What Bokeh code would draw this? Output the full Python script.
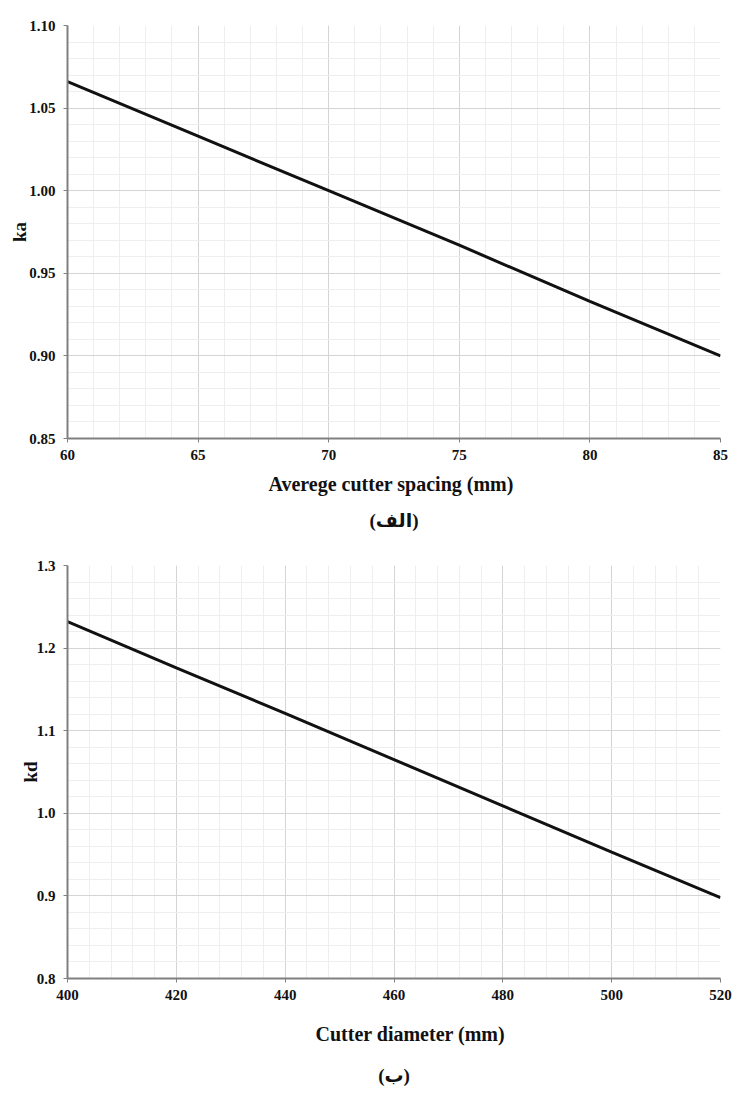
from bokeh.plotting import figure
from bokeh.layouts import column
from bokeh.models import Range1d, SingleIntervalTicker, NumeralTickFormatter, Title
from bokeh.embed import file_html
from bokeh.resources import INLINE

# ---- data ----
spacing = [60, 65, 70, 75, 80, 85]
ka = [1.066, 1.033, 1.000, 0.967, 0.933, 0.900]
diameter = [400, 420, 440, 460, 480, 500, 520]
kd = [1.232, 1.176, 1.121, 1.065, 1.009, 0.953, 0.898]

x1_label = "Averege cutter spacing (mm)"
y1_label = "ka"
cap1 = "(الف)"
x2_label = "Cutter diameter (mm)"
y2_label = "kd"
cap2 = "(ب)"

FONT = "Liberation Serif, DejaVu Serif, DejaVu Sans"


def make(xs, ys, xr, yr, xint, yint, yfmt, xl, yl, cap, h, top, bottom, right,
         title_off, s1, s2):
    p = figure(width=735, height=h, output_backend="svg", toolbar_location=None,
               x_range=Range1d(*xr), y_range=Range1d(*yr),
               min_border_left=67, min_border_right=right,
               min_border_top=top, min_border_bottom=bottom)
    p.outline_line_color = None
    p.xaxis.ticker = SingleIntervalTicker(interval=xint, num_minor_ticks=5)
    p.yaxis.ticker = SingleIntervalTicker(interval=yint, num_minor_ticks=5)
    p.yaxis.formatter = NumeralTickFormatter(format=yfmt)
    for ax in (p.xaxis, p.yaxis):
        ax.axis_line_color = "#808080"
        ax.axis_line_width = 2
        ax.major_tick_line_color = "#808080"
        ax.major_tick_line_width = 1
        ax.major_tick_out = 4
        ax.major_tick_in = 0
        ax.minor_tick_line_color = None
        ax.major_label_text_font = FONT
        ax.major_label_text_font_style = "bold"
        ax.major_label_text_font_size = "15px"
        ax.major_label_text_color = "#111111"
    p.xaxis.major_label_standoff = 7
    p.yaxis.major_label_standoff = 8
    p.yaxis.axis_label = yl
    p.yaxis.axis_label_text_font = FONT
    p.yaxis.axis_label_text_font_style = "bold"
    p.yaxis.axis_label_text_font_size = "19px"
    p.yaxis.axis_label_text_color = "#111111"
    p.yaxis.axis_label_standoff = -4
    p.xgrid.grid_line_color = "#d4d4d4"
    p.ygrid.grid_line_color = "#d4d4d4"
    p.xgrid.minor_grid_line_color = "#eeeeee"
    p.ygrid.minor_grid_line_color = "#eeeeee"
    p.line(xs, ys, line_color="#111111", line_width=3)
    t1 = Title(text=xl, align="left", offset=title_off, text_font=FONT,
               text_font_style="bold", text_font_size="20px", text_color="#111111",
               standoff=s1)
    t2 = Title(text=cap, align="center", text_font=FONT,
               text_font_style="bold", text_font_size="19px", text_color="#111111",
               standoff=s2)
    p.add_layout(t1, "below")
    p.add_layout(t2, "below")
    return p


p1 = make(spacing, ka, (60, 85), (0.85, 1.10), 5, 0.05, "0.00",
          x1_label, y1_label, cap1, 545, 25, 107, 15, 201, 16, 10)
p2 = make(diameter, kd, (400, 520), (0.8, 1.3), 20, 0.1, "0.0",
          x2_label, y2_label, cap2, 548, 20, 115, 7, 248, 36, 0)
p2.yaxis.axis_label_standoff = -7

layout = column(p1, p2, spacing=0)
open("out.html", "w").write(file_html(layout, INLINE))
